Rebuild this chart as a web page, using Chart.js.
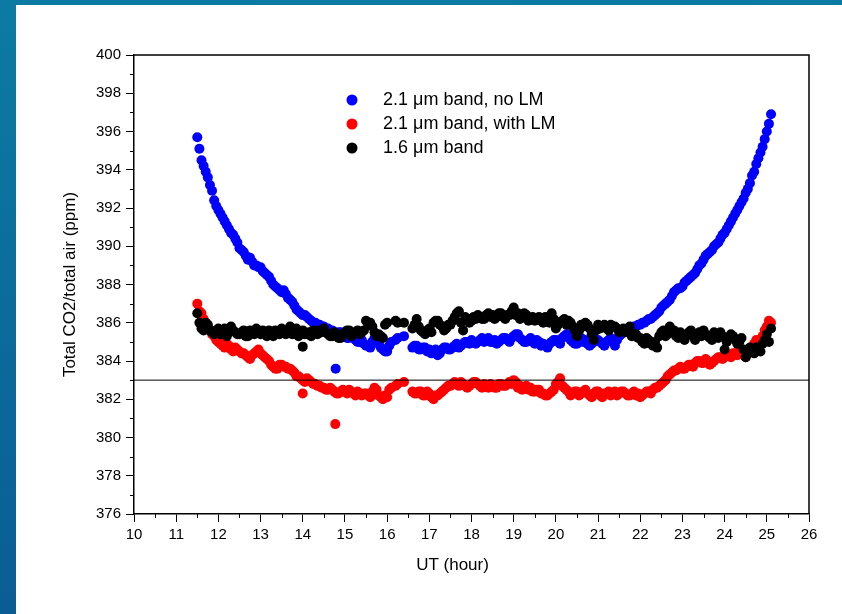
<!DOCTYPE html>
<html>
<head>
<meta charset="utf-8">
<title>Total CO2 / total air vs UT</title>
<script src="https://cdn.jsdelivr.net/npm/chart.js@4.4.0/dist/chart.umd.min.js"></script>
<style>
  html, body { margin: 0; padding: 0; }
  body {
    width: 842px;
    height: 614px;
    overflow: hidden;
    position: relative;
    background: linear-gradient(to bottom, #0c7ba3, #0a5d94);
  }
  #panel { position: absolute; left: 16px; top: 5px; right: 0; bottom: 0; background: #fff; }
  #co2Chart { position: absolute; left: 0; top: 0; }
</style>
</head>
<body>
<div id="panel"></div>
<canvas id="co2Chart" width="842" height="614"></canvas>
<script>
// sample times (UT hours), main pass
const utHours = [
  11.5, 11.6, 11.7, 11.8, 11.9, 12.0, 12.1, 12.2, 12.3, 12.4,
  12.5, 12.6, 12.7, 12.8, 12.9, 13.0, 13.1, 13.2, 13.3, 13.4,
  13.5, 13.6, 13.7, 13.8, 13.9, 14.0, 14.1, 14.2, 14.3, 14.4,
  14.5, 14.6, 14.7, 14.8, 14.9, 15.0, 15.1, 15.2, 15.3, 15.4,
  15.5, 15.6, 15.7, 15.8, 15.9, 16.0, 16.1, 16.2, 16.3, 16.4,
  16.5, 16.6, 16.7, 16.8, 16.9, 17.0, 17.1, 17.2, 17.3, 17.4,
  17.5, 17.6, 17.7, 17.8, 17.9, 18.0, 18.1, 18.2, 18.3, 18.4,
  18.5, 18.6, 18.7, 18.8, 18.9, 19.0, 19.1, 19.2, 19.3, 19.4,
  19.5, 19.6, 19.7, 19.8, 19.9, 20.0, 20.1, 20.2, 20.3, 20.4,
  20.5, 20.6, 20.7, 20.8, 20.9, 21.0, 21.1, 21.2, 21.3, 21.4,
  21.5, 21.6, 21.7, 21.8, 21.9, 22.0, 22.1, 22.2, 22.3, 22.4,
  22.5, 22.6, 22.7, 22.8, 22.9, 23.0, 23.1, 23.2, 23.3, 23.4,
  23.5, 23.6, 23.7, 23.8, 23.9, 24.0, 24.1, 24.2, 24.3, 24.4,
  24.5, 24.6, 24.7, 24.8, 24.9, 25.0, 25.1
];

// sample times in between the main pass
const utHoursMid = [
  11.55, 11.65, 11.75, 11.85, 11.95, 12.05, 12.15, 12.25, 12.35, 12.45,
  12.55, 12.65, 12.75, 12.85, 12.95, 13.05, 13.15, 13.25, 13.35, 13.45,
  13.55, 13.65, 13.75, 13.85, 13.95, 14.05, 14.15, 14.25, 14.35, 14.45,
  14.55, 14.65, 14.75, 14.85, 14.95, 15.05, 15.15, 15.25, 15.35, 15.45,
  15.55, 15.65, 15.75, 15.85, 15.95, 16.05, 16.15, 16.25, 16.35, 16.45,
  16.55, 16.65, 16.75, 16.85, 16.95, 17.05, 17.15, 17.25, 17.35, 17.45,
  17.55, 17.65, 17.75, 17.85, 17.95, 18.05, 18.15, 18.25, 18.35, 18.45,
  18.55, 18.65, 18.75, 18.85, 18.95, 19.05, 19.15, 19.25, 19.35, 19.45,
  19.55, 19.65, 19.75, 19.85, 19.95, 20.05, 20.15, 20.25, 20.35, 20.45,
  20.55, 20.65, 20.75, 20.85, 20.95, 21.05, 21.15, 21.25, 21.35, 21.45,
  21.55, 21.65, 21.75, 21.85, 21.95, 22.05, 22.15, 22.25, 22.35, 22.45,
  22.55, 22.65, 22.75, 22.85, 22.95, 23.05, 23.15, 23.25, 23.35, 23.45,
  23.55, 23.65, 23.75, 23.85, 23.95, 24.05, 24.15, 24.25, 24.35, 24.45,
  24.55, 24.65, 24.75, 24.85, 24.95, 25.05
];

// 2.1 um band, no LM (ppm)
const noLM = [
  395.7, 394.5, 393.9, 393.2, 392.4, 391.9, 391.5, 391.1, 390.7, 390.4,
  389.9, 389.7, 389.3, 389.2, 389.0, 388.9, 388.6, 388.4, 388.0, 387.8,
  387.6, 387.5, 387.2, 386.9, 386.6, 386.4, 386.3, 386.1, 386.0, 385.9,
  385.8, 385.7, 385.6, 385.4, 385.5, 385.3, 385.2, 385.3, 385.0, 385.1,
  384.8, 384.7, 385.2, 384.9, 384.6, 384.5, 385.0, 385.1, null, 385.3,
  null, 384.7, 384.8, 384.6, 384.7, 384.6, 384.5, 384.3, 384.6, 384.7,
  384.6, 384.8, 384.7, 384.9, 385.0, 385.1, 384.9, 385.1, 385.0, 385.2,
  385.0, 384.9, 385.1, 385.2, 385.0, 385.3, 385.4, 385.1, 385.0, 385.2,
  384.9, 385.0, 384.9, 384.7, 385.0, 385.1, 384.9, 385.3, 385.4, 385.0,
  384.9, 385.2, 385.1, 384.8, 385.0, 385.1, 384.9, 385.0, 385.2, 384.8,
  385.3, 385.5, 385.6, 385.7, 385.8, 385.9, 386.0, 386.2, 386.3, 386.5,
  386.8, 387.0, 387.2, 387.6, 387.8, 387.9, 388.2, 388.4, 388.6, 389.0,
  389.3, 389.6, 389.8, 390.1, 390.4, 390.7, 391.1, 391.5, 391.9, 392.3,
  392.8, 393.3, 393.9, 394.6, 395.2, 396.0, 396.9
];
const noLMMid = [
  395.1, 394.2, 393.6, 392.9, 392.1, 391.7, 391.3, 390.9, 390.6, 390.2,
  389.8, 389.5, 389.4, 389.0, 388.9, 388.7, 388.5, 388.2, 387.9, 387.7,
  387.7, 387.3, 387.1, 386.7, 386.5, 386.4, 386.2, 386.0, 385.9, 385.8,
  385.7, 385.6, 385.5, 385.5, 385.3, 385.2, 385.3, 385.1, 385.0, 384.9,
  384.8, 385.0, 385.0, 384.7, 384.5, 384.8, null, 385.2, null, null,
  null, 384.8, 384.6, 384.7, 384.5, 384.4, 384.6, 384.4, 384.7, 384.6,
  384.7, 384.9, 384.8, 385.0, 384.9, 385.0, 385.0, 385.2, 385.1, 385.0,
  385.1, 385.0, 385.2, 385.1, 385.2, 385.4, 385.2, 385.0, 385.1, 385.0,
  385.1, 384.8, 384.8, 384.9, 385.1, 385.0, 385.2, 385.4, 385.1, 384.9,
  385.0, 385.0, 384.9, 384.9, 385.1, 385.0, 384.8, 385.1, 385.0, 385.1,
  385.4, 385.6, 385.6, 385.8, 385.9, 386.0, 386.1, 386.2, 386.4, 386.6,
  386.9, 387.1, 387.4, 387.7, 387.8, 388.1, 388.3, 388.5, 388.8, 389.1,
  389.5, 389.7, 390.0, 390.2, 390.6, 390.9, 391.3, 391.7, 392.1, 392.5,
  393.0, 393.7, 394.3, 394.9, 395.6, 396.4
];

// 2.1 um band, with LM (ppm)
const withLM = [
  387.0, 386.5, 386.0, 385.6, 385.3, 385.0, 384.8, 384.9, 384.6, 384.7,
  384.5, 384.4, 384.2, 384.3, 384.5, 384.4, 384.2, 384.0, 383.7, 383.6,
  383.8, 383.7, 383.6, 383.4, 383.2, 383.0, 383.1, 382.9, 382.8, 382.7,
  382.6, 382.5, 382.5, 382.3, 382.4, 382.4, 382.5, 382.3, 382.4, 382.2,
  382.3, 382.1, 382.6, 382.2, 382.0, 382.1, 382.6, 382.7, null, 382.9,
  null, 382.4, 382.3, 382.4, 382.2, 382.3, 382.0, 382.2, 382.4, 382.6,
  382.7, 382.9, 382.7, 382.8, 382.6, 382.8, 382.9, 382.7, 382.8, 382.6,
  382.7, 382.6, 382.8, 382.7, 382.9, 383.0, 382.6, 382.5, 382.7, 382.6,
  382.4, 382.5, 382.3, 382.2, 382.4, 382.8, 383.1, 382.6, 382.4, 382.3,
  382.4, 382.3, 382.5, 382.2, 382.3, 382.4, 382.1, 382.3, 382.2, 382.4,
  382.3, 382.4, 382.2, 382.3, 382.2, 382.1, 382.3, 382.4, 382.5, 382.6,
  382.8, 383.0, 383.3, 383.5, 383.6, 383.6, 383.7, 383.8, 383.9, 384.0,
  383.9, 384.0, 383.9, 384.1, 384.2, 384.2, 384.3, 384.4, 384.3, 384.4,
  384.2, 384.5, 384.9, 384.8, 385.3, 385.8, 386.0
];
const withLMMid = [
  386.6, 386.2, 385.8, 385.4, 385.1, 384.9, 384.7, 384.8, 384.5, 384.6,
  384.4, 384.3, 384.1, 384.4, 384.6, 384.3, 384.1, 383.8, 383.6, 383.8,
  383.7, 383.6, 383.5, 383.2, 383.1, 382.9, 383.0, 382.8, 382.7, 382.6,
  382.5, 382.6, 382.4, 382.3, 382.5, 382.3, 382.4, 382.2, 382.3, 382.3,
  382.2, 382.4, 382.5, 382.1, 382.2, 382.5, null, 382.8, null, null,
  null, 382.3, 382.4, 382.2, 382.4, 382.1, 382.2, 382.3, 382.5, 382.7,
  382.8, 382.8, 382.9, 382.7, 382.7, 382.9, 382.8, 382.6, 382.7, 382.8,
  382.6, 382.8, 382.7, 382.8, 382.8, 382.9, 382.7, 382.6, 382.5, 382.4,
  382.5, 382.3, 382.2, 382.3, 382.5, 382.9, 382.7, 382.5, 382.2, 382.4,
  382.2, 382.4, 382.3, 382.1, 382.4, 382.2, 382.3, 382.4, 382.3, 382.2,
  382.4, 382.3, 382.2, 382.4, 382.3, 382.2, 382.4, 382.3, 382.6, 382.7,
  382.9, 383.2, 383.4, 383.5, 383.7, 383.6, 383.8, 383.7, 384.0, 383.9,
  384.1, 383.8, 384.0, 384.2, 384.1, 384.3, 384.2, 384.4, 384.5, 384.3,
  384.6, 384.7, 385.1, 385.0, 385.6, 386.1
];

// 1.6 um band (ppm)
const band16 = [
  386.5, 385.7, 386.0, 385.6, 385.4, 385.7, 385.5, 385.3, 385.8, 385.5,
  385.4, 385.6, 385.3, 385.5, 385.7, 385.4, 385.5, 385.6, 385.3, 385.5,
  385.7, 385.4, 385.8, 385.5, 385.3, 385.6, 385.4, 385.3, 385.5, 385.6,
  385.7, 385.4, 385.3, 385.4, 385.2, 385.5, 385.6, 385.4, 385.6, 385.5,
  386.1, 386.0, 385.5, 385.4, 385.2, 386.0, null, 386.1, null, 386.0,
  null, 385.7, 386.2, 385.6, 385.4, 385.7, 386.0, 386.1, 385.8, 385.7,
  385.9, 386.3, 386.6, 385.6, 386.2, 386.1, 386.2, 386.3, 386.2, 386.5,
  386.4, 386.3, 386.5, 386.2, 386.4, 386.8, 386.5, 386.3, 386.4, 386.2,
  386.1, 386.3, 386.0, 386.2, 386.5, 385.7, 386.0, 386.2, 386.1, 385.8,
  385.3, 385.9, 386.0, 385.7, 385.1, 385.9, 385.8, 385.7, 385.9, 385.8,
  385.5, 385.7, 385.6, 385.3, 385.4, 385.2, 384.9, 385.1, 384.8, 384.7,
  385.5, 385.3, 385.8, 385.6, 385.2, 385.3, 385.4, 385.6, 385.1, 385.5,
  385.6, 385.3, 385.1, 385.4, 385.5, 384.6, 385.2, 385.3, 384.9, 385.2,
  384.2, 384.7, 384.4, 384.6, 384.9, 385.4, 385.7
];
const band16Mid = [
  386.0, 385.6, 385.9, 385.5, 385.6, 385.4, 385.7, 385.5, 385.6, 385.4,
  385.5, 385.3, 385.6, 385.4, 385.5, 385.6, 385.3, 385.4, 385.6, 385.4,
  385.5, 385.6, 385.4, 385.7, 385.5, 385.4, 385.5, 385.6, 385.4, 385.5,
  385.5, 385.3, 385.5, 385.2, 385.4, 385.6, 385.3, 385.5, 385.4, 385.6,
  385.9, 385.8, 385.3, 385.3, 385.9, null, null, 386.0, null, null,
  null, 385.9, 385.8, 385.5, 385.6, 385.5, 386.1, 385.9, 385.6, 385.9,
  386.1, 386.5, 386.0, 386.3, 386.0, 386.3, 386.4, 386.2, 386.4, 386.3,
  386.2, 386.5, 386.3, 386.4, 386.6, 386.4, 386.2, 386.5, 386.1, 386.3,
  386.2, 386.1, 386.3, 386.0, 386.2, 385.9, 386.1, 385.9, 386.0, 385.6,
  385.6, 385.8, 385.9, 385.4, 385.6, 385.7, 385.9, 385.6, 385.8, 385.7,
  385.6, 385.5, 385.8, 385.4, 385.2, 385.0, 385.2, 384.9, 385.0, 385.3,
  385.6, 385.4, 385.5, 385.3, 385.5, 385.1, 385.5, 385.3, 385.4, 385.3,
  385.4, 385.2, 385.5, 385.2, 385.3, 385.0, 385.4, 385.1, 385.0, 384.6,
  384.4, 384.5, 384.7, 384.5, 385.1, 385.0
];

// isolated readings that fall off the regular time grid
const noLMExtraHours = [14.78];
const noLMExtra = [383.6];
const withLMExtraHours = [14.0, 14.77];
const withLMExtra = [382.3, 380.7];
const band16ExtraHours = [14.0];
const band16Extra = [384.75];

const seriesLabels = ['2.1 \u03bcm band, no LM', '2.1 \u03bcm band, with LM', '1.6 \u03bcm band'];
const seriesColors = ['#0000ff', '#ff0000', '#000000'];

const referencePpm = 383;
const xRange = [10, 26];
const yRange = [376, 400];

function toPoints(groups) {
  const pts = [];
  groups.forEach(([hours, values]) => {
    hours.forEach((h, i) => {
      if (values[i] !== null) pts.push({ x: h, y: values[i] });
    });
  });
  return pts.sort((a, b) => a.x - b.x);
}

const FONT = '"Liberation Sans", Arial, sans-serif';

// box edges, minor ticks, x title and the in-plot legend
const framePlugin = {
  id: 'frame',
  afterDraw(chart) {
    const { ctx, chartArea: a, scales: { x, y } } = chart;
    ctx.save();
    ctx.strokeStyle = '#000';
    ctx.lineWidth = 1.5;
    ctx.beginPath();
    ctx.moveTo(a.left, a.top);
    ctx.lineTo(a.right, a.top);
    ctx.lineTo(a.right, a.bottom);
    ctx.stroke();

    ctx.lineWidth = 1;
    ctx.beginPath();
    for (let v = yRange[0] + 1; v < yRange[1]; v += 2) {
      const py = Math.round(y.getPixelForValue(v)) + 0.5;
      ctx.moveTo(a.left - 4, py);
      ctx.lineTo(a.left, py);
    }
    for (let h = xRange[0] + 0.5; h < xRange[1]; h += 1) {
      const px = Math.round(x.getPixelForValue(h)) + 0.5;
      ctx.moveTo(px, a.bottom);
      ctx.lineTo(px, a.bottom + 4);
    }
    ctx.stroke();

    ctx.fillStyle = '#000';
    ctx.font = '17px ' + FONT;
    ctx.textAlign = 'center';
    ctx.textBaseline = 'middle';
    ctx.fillText('UT (hour)', (a.left + a.right) / 2 - 19, a.bottom + 51);

    // legend
    const lx = 352, ly = 100, gap = 24;
    ctx.font = '18px ' + FONT;
    ctx.textAlign = 'left';
    seriesLabels.forEach((label, i) => {
      const cy = ly + i * gap;
      ctx.fillStyle = seriesColors[i];
      ctx.beginPath();
      ctx.arc(lx, cy, 5.5, 0, Math.PI * 2);
      ctx.fill();
      ctx.fillStyle = '#000';
      ctx.fillText(label, lx + 31, cy);
    });
    ctx.restore();
  }
};

const scatterStyle = (color, order) => ({
  backgroundColor: color,
  borderColor: color,
  borderWidth: 0,
  pointRadius: 5,
  pointHoverRadius: 5,
  showLine: false,
  order: order
});

new Chart(document.getElementById('co2Chart'), {
  type: 'scatter',
  data: {
    datasets: [
      Object.assign({ label: seriesLabels[0], data: toPoints([[utHours, noLM], [utHoursMid, noLMMid], [noLMExtraHours, noLMExtra]]) }, scatterStyle(seriesColors[0], 3)),
      Object.assign({ label: seriesLabels[1], data: toPoints([[utHours, withLM], [utHoursMid, withLMMid], [withLMExtraHours, withLMExtra]]) }, scatterStyle(seriesColors[1], 2)),
      Object.assign({ label: seriesLabels[2], data: toPoints([[utHours, band16], [utHoursMid, band16Mid], [band16ExtraHours, band16Extra]]) }, scatterStyle(seriesColors[2], 1)),
      {
        label: 'reference',
        data: [{ x: xRange[0], y: referencePpm }, { x: xRange[1], y: referencePpm }],
        showLine: true,
        borderColor: '#000',
        borderWidth: 1,
        pointRadius: 0,
        order: 0
      }
    ]
  },
  options: {
    responsive: false,
    animation: false,
    layout: { padding: { top: 55, right: 33, left: 0, bottom: 0 } },
    plugins: {
      legend: { display: false },
      tooltip: { enabled: false }
    },
    scales: {
      x: {
        type: 'linear',
        min: xRange[0],
        max: xRange[1],
        afterFit(scale) { scale.height = 100; },
        ticks: { stepSize: 1, autoSkip: false, maxRotation: 0, color: '#000', padding: 4, font: { family: FONT, size: 15 } },
        grid: { drawOnChartArea: false, tickLength: 8, color: '#000', lineWidth: 1 },
        border: { color: '#000', width: 1.5 }
      },
      y: {
        type: 'linear',
        min: yRange[0],
        max: yRange[1],
        afterFit(scale) { scale.width = 134; },
        ticks: { stepSize: 2, autoSkip: false, color: '#000', padding: 5, font: { family: FONT, size: 15 } },
        grid: { drawOnChartArea: false, tickLength: 8, color: '#000', lineWidth: 1 },
        border: { color: '#000', width: 1.5 },
        title: { display: true, text: 'Total CO2/total air (ppm)', color: '#000', font: { family: FONT, size: 17 }, padding: { top: 60, bottom: 0 } }
      }
    }
  },
  plugins: [framePlugin]
});
</script>
</body>
</html>
